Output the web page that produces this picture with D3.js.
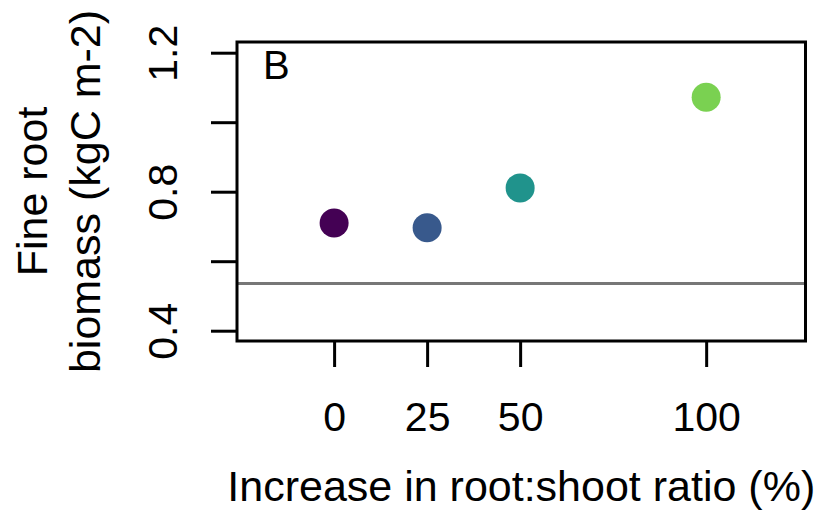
<!DOCTYPE html>
<html>
<head>
<meta charset="utf-8">
<script src="https://cdn.jsdelivr.net/npm/d3@7"></script>
<style>
html,body{margin:0;padding:0;background:#fff;}
svg{display:block;}
text{font-family:"Liberation Sans",Arial,Helvetica,sans-serif;fill:#000;}
</style>
</head>
<body>
<svg id="chart" width="828" height="511"></svg>
<script>
const categories = [0, 25, 50, 100];
const values = [0.71, 0.696, 0.811, 1.072];
const colors = ["#440154", "#38598C", "#20938C", "#7AD151"];
const yTicks = [0.4, 0.6, 0.8, 1.0, 1.2];
const yTickLabels = ["0.4", "", "0.8", "", "1.2"];
const xTickLabels = ["0", "25", "50", "100"];
const referenceLine = 0.536;
const panelLabel = "B";
const xTitle = "Increase in root:shoot ratio (%)";
const yTitle = ["Fine root", "biomass (kgC m-2)"];

const svg = d3.select("#chart");
const pLeft = 237, pRight = 805.5, pTop = 42, pBottom = 341;

const x = d3.scaleLinear().domain([-26.1, 126.7]).range([pLeft, pRight]);
const y = d3.scaleLinear().domain([0.4, 1.2]).range([330.7, 52.7]);

// reference line
svg.append("line")
  .attr("x1", pLeft).attr("x2", pRight)
  .attr("y1", y(referenceLine)).attr("y2", y(referenceLine))
  .attr("stroke", "#777777").attr("stroke-width", 3);

// points
svg.selectAll("circle.pt").data(categories).enter().append("circle")
  .attr("class", "pt")
  .attr("cx", d => x(d))
  .attr("cy", (d, i) => y(values[i]))
  .attr("r", 14.5)
  .attr("fill", (d, i) => colors[i]);

// box
svg.append("rect")
  .attr("x", pLeft).attr("y", pTop)
  .attr("width", pRight - pLeft).attr("height", pBottom - pTop)
  .attr("fill", "none").attr("stroke", "#000").attr("stroke-width", 3);

// y axis
const yAxis = d3.axisLeft(y).tickValues(yTicks).tickSize(26)
  .tickFormat((d, i) => yTickLabels[i]);
const gy = svg.append("g").attr("transform", `translate(${pLeft},0)`).call(yAxis);
gy.select(".domain").remove();
gy.selectAll(".tick line").attr("stroke", "#000").attr("stroke-width", 3);
gy.selectAll(".tick text").remove();
gy.selectAll(".tick").append("text")
  .attr("transform", "translate(-60,0) rotate(-90)")
  .attr("text-anchor", "middle")
  .attr("font-size", 41)
  .text((d, i) => yTickLabels[i]);

// x axis
const xAxis = d3.axisBottom(x).tickValues(categories).tickSize(26)
  .tickFormat((d, i) => xTickLabels[i]);
const gx = svg.append("g").attr("transform", `translate(0,${pBottom})`).call(xAxis);
gx.select(".domain").remove();
gx.selectAll(".tick line").attr("stroke", "#000").attr("stroke-width", 3);
gx.selectAll(".tick text").attr("dy", null).attr("y", 90)
  .attr("font-size", 41).attr("fill", "#000")
  .style("font-family", '"Liberation Sans",Arial,sans-serif');

// panel label
svg.append("text").attr("x", 263).attr("y", 79)
  .attr("font-size", 40).text(panelLabel);

// x title
svg.append("text").attr("x", (pLeft + pRight) / 2).attr("y", 501)
  .attr("text-anchor", "middle").attr("font-size", 43).text(xTitle);

// y title
const cy = (pTop + pBottom) / 2;
svg.append("text").attr("transform", `translate(47,${cy}) rotate(-90)`)
  .attr("text-anchor", "middle").attr("font-size", 43).text(yTitle[0]);
svg.append("text").attr("transform", `translate(100,${cy}) rotate(-90)`)
  .attr("text-anchor", "middle").attr("font-size", 43).text(yTitle[1]);
</script>
</body>
</html>
